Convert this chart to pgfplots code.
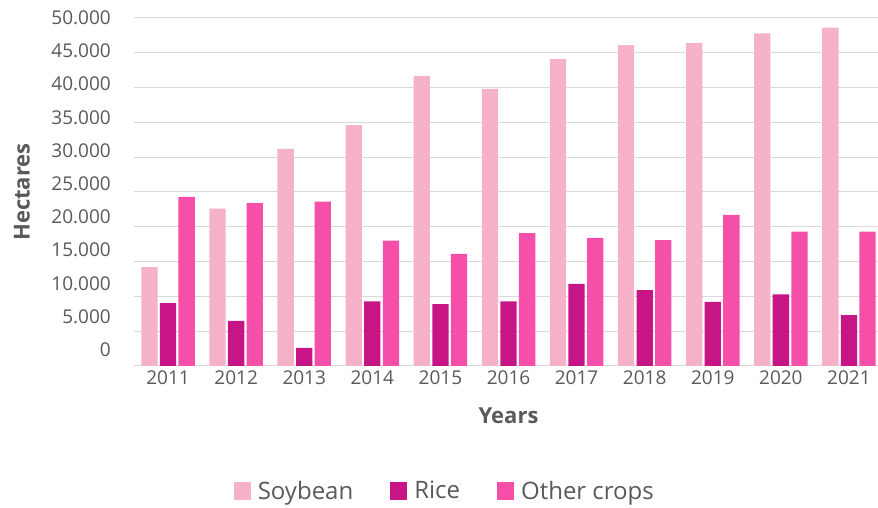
\documentclass[border=0pt]{standalone}
\usepackage{fontspec}
\setmainfont{Open Sans}
\usepackage{pgfplots}
\pgfplotsset{compat=1.18}
\definecolor{soy}{HTML}{F5B2C8}
\definecolor{rice}{HTML}{C71585}
\definecolor{other}{HTML}{F54FA9}
\definecolor{txt}{HTML}{595959}
\definecolor{gridc}{HTML}{D9D9D9}
\begin{document}
\begin{tikzpicture}
\useasboundingbox (0,0) rectangle (878pt,508pt);
\begin{axis}[
  at={(134pt,142pt)}, anchor=south west,
  scale only axis, width=749pt, height=348pt,
  ybar=2.3pt, bar width=16.3pt,
  xmin=-0.5, xmax=10.5, ymin=0, ymax=50000,
  enlargelimits=false,
  scaled y ticks=false,
  xtick={0,...,10},
  xticklabels={2011,2012,2013,2014,2015,2016,2017,2018,2019,2020,2021},
  ytick={0,5000,...,50000},
  yticklabels={},
  major tick length=0pt,
  ymajorgrids,
  grid style={gridc, line width=1pt},
  axis line style={draw=none},
  xticklabel style={font=\fontsize{19}{22}\selectfont, text=txt, anchor=center, yshift=-12pt},
  xlabel={Years},
  ylabel={Hectares},
  every axis x label/.style={at={(axis description cs:0.5,0)}, yshift=-50pt, anchor=center, font=\fontsize{22}{26}\selectfont\bfseries, text=txt},
  every axis y label/.style={at={(axis description cs:0,0.5)}, xshift=-112pt, rotate=90, anchor=center, font=\fontsize{22}{26}\selectfont\bfseries, text=txt},
  legend columns=3,
  legend style={at={(axis description cs:0.415,-0.359)}, anchor=center, draw=none, fill=none,
    font=\fontsize{24}{28}\selectfont, text=txt,
    column sep=5pt,
    /tikz/every even column/.append style={column sep=35pt}},
  legend image code/.code={\fill[#1] (0pt,-9pt) rectangle (17pt,9pt);},
  clip=false,
]
\addplot[fill=soy, draw=none] coordinates {
(0,14200) (1,22600) (2,31200) (3,34600) (4,41700) (5,39800) (6,44100) (7,46100) (8,46400) (9,47800) (10,48600)};
\addplot[fill=rice, draw=none] coordinates {
(0,9050) (1,6500) (2,2600) (3,9300) (4,8900) (5,9300) (6,11800) (7,10900) (8,9200) (9,10300) (10,7300)};
\addplot[fill=other, draw=none] coordinates {
(0,24300) (1,23400) (2,23600) (3,18000) (4,16100) (5,19100) (6,18400) (7,18100) (8,21700) (9,19300) (10,19300)};
\legend{Soybean, Rice, Other crops}
\end{axis}
\begin{axis}[
  at={(134pt,142pt)}, anchor=south west,
  scale only axis, width=749pt, height=360pt,
  xmin=-0.5, xmax=10.5, ymin=-2455, ymax=51762,
  enlargelimits=false,
  scaled y ticks=false,
  axis x line=none,
  axis y line=left,
  y axis line style={draw=none},
  major tick length=0pt,
  ytick={0,5000,...,50000},
  yticklabels={0,5.000,10.000,15.000,20.000,25.000,30.000,35.000,40.000,45.000,50.000},
  yticklabel style={font=\fontsize{19}{22}\selectfont, text=txt, anchor=east, inner sep=0pt, xshift=-23pt},
]
\end{axis}
\end{tikzpicture}
\end{document}
